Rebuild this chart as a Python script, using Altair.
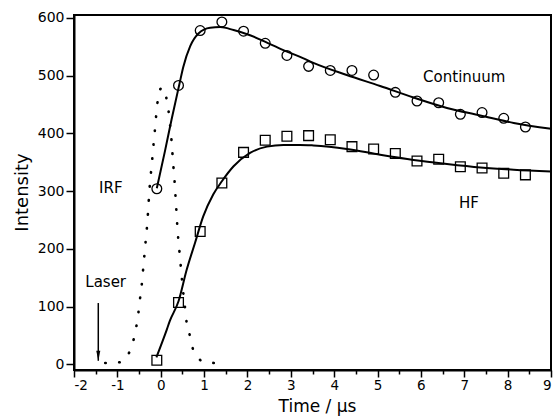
import altair as alt
import pandas as pd

# ---- measured data (Time in microseconds, Intensity) ----
t_points = [-0.09, 0.41, 0.91, 1.41, 1.91, 2.41, 2.91, 3.41, 3.91, 4.41,
            4.91, 5.41, 5.91, 6.41, 6.91, 7.41, 7.91, 8.41]
continuum = [304, 483, 578, 593, 577, 556, 535, 516, 509, 509,
             501, 471, 456, 453, 433, 436, 426, 411]
hf = [7, 107, 230, 314, 367, 388, 395, 396, 389, 377,
      373, 365, 352, 355, 342, 340, 331, 328]

# ---- fitted curves ----
fit_cont_t = [-0.09, 0.1, 0.25, 0.43, 0.52, 0.68, 0.87, 1.14, 1.37, 1.68,
              2.06, 2.45, 2.8, 3.2, 3.52, 4.29, 5.06, 5.83, 6.6, 7.37, 8.14, 9.0]
fit_cont_i = [305, 370, 424, 485, 515, 551, 573, 583, 584, 579,
              570, 557, 545, 533, 522, 501, 482, 462, 444, 431, 418, 408]
fit_hf_t = [-0.1, 0.14, 0.21, 0.41, 0.60, 0.79, 0.98, 1.21, 1.41, 1.68,
            2.06, 2.45, 2.83, 3.21, 3.52, 4.29, 5.06, 5.83, 6.6, 7.37, 8.14, 9.0]
fit_hf_i = [12, 60, 75, 109, 164, 210, 256, 294, 317, 343,
            366, 377, 380, 380, 379, 373, 363, 354, 347, 341, 337, 334]

# ---- instrument response function (dotted) ----
irf_t = [-1.28, -0.98, -0.76, -0.65, -0.57, -0.52, -0.48, -0.44, -0.41, -0.38,
         -0.35, -0.32, -0.295, -0.275, -0.255, -0.23, -0.20, -0.17, -0.14, -0.11,
         -0.08, -0.02, 0.03, 0.09, 0.15, 0.20, 0.23, 0.26, 0.28, 0.31,
         0.33, 0.35, 0.37, 0.39, 0.42, 0.45, 0.48, 0.51, 0.55, 0.58,
         0.65, 0.72, 0.83, 1.04, 1.35]
irf_i = [2, 3, 16, 36, 62, 86, 112, 136, 161, 186,
         211, 235, 261, 285, 307, 328, 352, 378, 401, 427,
         450, 475, 479, 475, 452, 427, 402, 378, 353, 328,
         304, 280, 255, 230, 205, 180, 155, 130, 106, 82,
         57, 32, 14, 3, 2]

# ---- axis ticks ----
x_ticks = [-2, -1.5, -1, -0.5, 0, 0.5, 1, 1.5, 2, 2.5, 3, 3.5, 4, 4.5,
           5, 5.5, 6, 6.5, 7, 7.5, 8, 8.5, 9]
y_ticks = [0, 50, 100, 150, 200, 250, 300, 350, 400, 450, 500, 550, 600]

# ---- annotations ----
labels = ["Continuum", "HF", "IRF", "Laser"]
label_t = [7.0, 7.11, -1.15, -1.27]
label_i = [498, 279, 306, 143]
arrow_t = [-1.44]
arrow_top = [106]
arrow_tip = [6]

FONT = "DejaVu Sans"

points_df = pd.DataFrame({
    "t": t_points * 2,
    "I": continuum + hf,
    "series": ["Continuum"] * len(t_points) + ["HF"] * len(t_points),
})
fit_df = pd.DataFrame({
    "t": fit_cont_t + fit_hf_t,
    "I": fit_cont_i + fit_hf_i,
    "series": ["Continuum"] * len(fit_cont_t) + ["HF"] * len(fit_hf_t),
})
irf_df = pd.DataFrame({"t": irf_t, "I": irf_i})
label_df = pd.DataFrame({"t": label_t, "I": label_i, "text": labels})
arrow_df = pd.DataFrame({"t": arrow_t, "top": arrow_top, "tip": arrow_tip})

xscale = alt.Scale(domain=[-2, 9], nice=False, zero=False)
yscale = alt.Scale(domain=[-10, 605], nice=False, zero=False)

xaxis = alt.Axis(
    values=x_ticks,
    labelExpr="datum.value % 1 === 0 ? '' + datum.value : ''",
    tickSize={"condition": {"test": "datum.value % 1 !== 0", "value": 4}, "value": 7},
    title="Time / μs",
    titleBaseline="alphabetic",
    titleFontSize=17,
    titleX=243,
    titleY=41,
    labelPadding=1,
    labelFontSize=13.5,
)
yaxis = alt.Axis(
    values=y_ticks,
    labelExpr="datum.value % 100 === 0 ? '' + datum.value : ''",
    tickSize={"condition": {"test": "datum.value % 100 !== 0", "value": 4}, "value": 8},
    title="Intensity",
    titleBaseline="alphabetic",
    titleAngle=-90,
    titleX=-47,
    titleY=177,
    labelPadding=2,
)

x = alt.X("t:Q", scale=xscale, axis=xaxis)
y = alt.Y("I:Q", scale=yscale, axis=yaxis)

irf = alt.Chart(irf_df).mark_line(
    color="black", strokeWidth=2.6, strokeDash=[0.5, 13.5], strokeCap="round",
    interpolate="monotone",
).encode(x=x, y=y)

fits = alt.Chart(fit_df).mark_line(
    color="black", strokeWidth=2, interpolate="monotone"
).encode(x=x, y=y, detail="series:N")

pts = alt.Chart(points_df).mark_point(
    filled=False, color="black", strokeWidth=1.3, size=95, opacity=1
).encode(
    x=x, y=y,
    shape=alt.Shape("series:N", scale=alt.Scale(domain=["Continuum", "HF"],
                                                range=["circle", "square"]),
                    legend=None),
)

arrow_line = alt.Chart(arrow_df).mark_rule(color="black", strokeWidth=1.5).encode(
    x=x, y=alt.Y("top:Q", scale=yscale), y2="tip:Q"
)
arrow_head = alt.Chart(arrow_df).mark_point(
    shape="M -0.4 -2 L 0.4 -2 L 0 0 Z", filled=True, color="black", size=100, opacity=1
).encode(x=x, y=alt.Y("tip:Q", scale=yscale))

texts = alt.Chart(label_df).mark_text(
    font=FONT, fontSize=15, color="black", align="center", baseline="middle"
).encode(x=x, y=y, text="text:N")

chart = alt.layer(irf, fits, pts, arrow_line, arrow_head, texts).properties(
    width=477, height=355,
    autosize=alt.AutoSizeParams(type="none"),
    padding={"left": 74, "top": 15, "right": 7, "bottom": 49},
    background="white",
).configure_view(
    stroke="black", strokeWidth=2
).configure_axis(
    grid=False,
    domainColor="black", domainWidth=2,
    tickColor="black", tickWidth=1.5,
    labelFont=FONT, labelFontSize=14, labelColor="black",
    titleFont=FONT, titleFontSize=18, titleFontWeight="normal", titleColor="black",
)

chart.save("out.html", embed_options={"renderer": "svg", "actions": False})
